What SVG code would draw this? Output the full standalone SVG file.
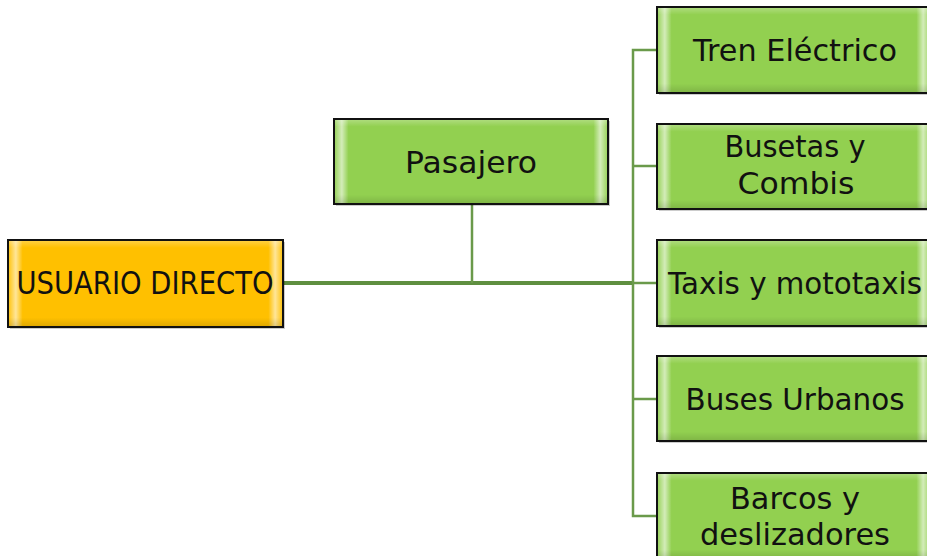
<svg xmlns="http://www.w3.org/2000/svg" width="927" height="556" viewBox="0 0 927 556">
<defs>
<linearGradient id="bevel" x1="0" y1="0" x2="1" y2="0">
<stop offset="0" stop-color="#ffffff" stop-opacity="0.1"/>
<stop offset="0.025" stop-color="#ffffff" stop-opacity="0.6"/>
<stop offset="0.05" stop-color="#ffffff" stop-opacity="0"/>
<stop offset="0.95" stop-color="#ffffff" stop-opacity="0"/>
<stop offset="0.975" stop-color="#ffffff" stop-opacity="0.6"/>
<stop offset="1" stop-color="#ffffff" stop-opacity="0.1"/>
</linearGradient>
<linearGradient id="bevelv" x1="0" y1="0" x2="0" y2="1">
<stop offset="0" stop-color="#ffffff" stop-opacity="0.25"/>
<stop offset="0.08" stop-color="#ffffff" stop-opacity="0"/>
<stop offset="0.9" stop-color="#000000" stop-opacity="0"/>
<stop offset="1" stop-color="#000000" stop-opacity="0.12"/>
</linearGradient>
</defs>
<style>
.g{fill:#92d050;stroke:#111;stroke-width:2}
.o{fill:#ffc000;stroke:#111;stroke-width:2}
.sh{fill:#000;opacity:0.2}
.bv{fill:url(#bevel);stroke:none}
.bh{fill:url(#bevelv);stroke:none}
.t{font-family:"DejaVu Sans",sans-serif;font-size:30px;fill:#111;text-anchor:middle}
.c{fill:none;stroke:#6a9a4a;stroke-width:2.5}
.m{fill:none;stroke:#5f8f40;stroke-width:4}
</style>
<g id="connectors">
<line class="m" x1="283" y1="283" x2="633" y2="283"/>
<line class="c" x1="472" y1="204" x2="472" y2="283"/>
<polyline class="c" points="657,50 633,50 633,516 657,516"/>
<line class="c" x1="633" y1="166" x2="657" y2="166"/>
<line class="c" x1="633" y1="283" x2="657" y2="283"/>
<line class="c" x1="633" y1="399" x2="657" y2="399"/>
</g>
<g id="usuario">
<rect class="sh" x="10" y="242" width="275" height="87"/>
<rect class="o" x="8" y="240" width="275" height="87"/>
<rect class="bv" x="9" y="241" width="273" height="85"/>
<rect class="bh" x="9" y="241" width="273" height="85"/>
<text class="t" x="145" y="294" textLength="257" lengthAdjust="spacingAndGlyphs" style="font-size:32px">USUARIO DIRECTO</text>
</g>
<g id="pasajero">
<rect class="sh" x="336" y="121" width="274" height="85"/>
<rect class="g" x="334" y="119" width="274" height="85"/>
<rect class="bv" x="335" y="120" width="272" height="83"/>
<rect class="bh" x="335" y="120" width="272" height="83"/>
<text class="t" x="471" y="173" textLength="132" lengthAdjust="spacingAndGlyphs">Pasajero</text>
</g>
<g id="tren">
<rect class="sh" x="659" y="9" width="274" height="86"/>
<rect class="g" x="657" y="7" width="274" height="86"/>
<rect class="bv" x="658" y="8" width="272" height="84"/>
<rect class="bh" x="658" y="8" width="272" height="84"/>
<text class="t" x="795" y="61" textLength="204" lengthAdjust="spacingAndGlyphs">Tren Eléctrico</text>
</g>
<g id="busetas">
<rect class="sh" x="659" y="126" width="274" height="85"/>
<rect class="g" x="657" y="124" width="274" height="85"/>
<rect class="bv" x="658" y="125" width="272" height="83"/>
<rect class="bh" x="658" y="125" width="272" height="83"/>
<text class="t" x="795" y="157" textLength="141" lengthAdjust="spacingAndGlyphs">Busetas y</text>
<text class="t" x="796" y="194" textLength="117" lengthAdjust="spacingAndGlyphs">Combis</text>
</g>
<g id="taxis">
<rect class="sh" x="659" y="242" width="274" height="86"/>
<rect class="g" x="657" y="240" width="274" height="86"/>
<rect class="bv" x="658" y="241" width="272" height="84"/>
<rect class="bh" x="658" y="241" width="272" height="84"/>
<text class="t" x="795" y="294" textLength="254" lengthAdjust="spacingAndGlyphs">Taxis y mototaxis</text>
</g>
<g id="buses">
<rect class="sh" x="659" y="358" width="274" height="85"/>
<rect class="g" x="657" y="356" width="274" height="85"/>
<rect class="bv" x="658" y="357" width="272" height="83"/>
<rect class="bh" x="658" y="357" width="272" height="83"/>
<text class="t" x="795" y="410" textLength="219" lengthAdjust="spacingAndGlyphs">Buses Urbanos</text>
</g>
<g id="barcos">
<rect class="sh" x="659" y="475" width="274" height="86"/>
<rect class="g" x="657" y="473" width="274" height="86"/>
<rect class="bv" x="658" y="474" width="272" height="84"/>
<rect class="bh" x="658" y="474" width="272" height="84"/>
<text class="t" x="795" y="509" textLength="130" lengthAdjust="spacingAndGlyphs">Barcos y</text>
<text class="t" x="795" y="545" textLength="190" lengthAdjust="spacingAndGlyphs">deslizadores</text>
</g>
</svg>
